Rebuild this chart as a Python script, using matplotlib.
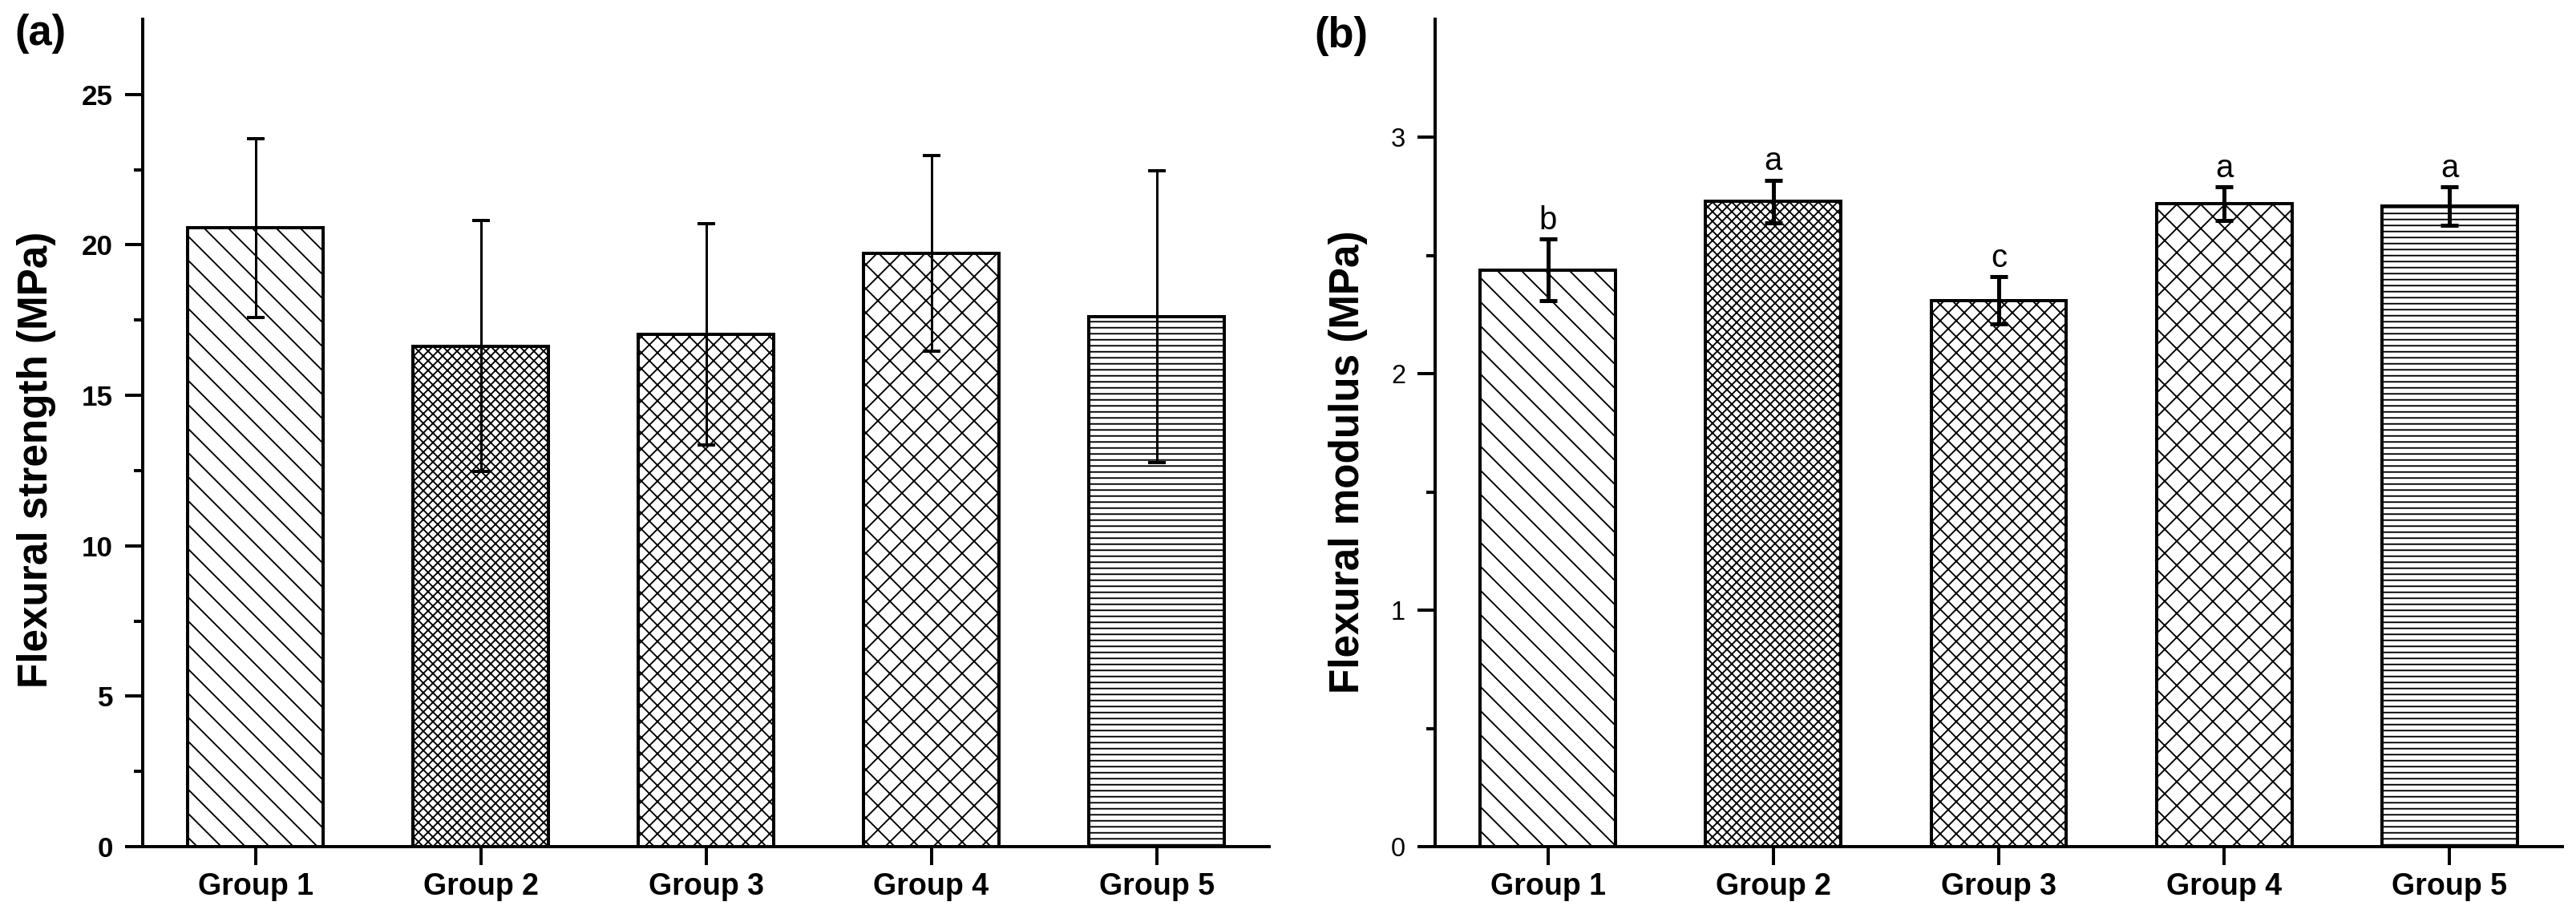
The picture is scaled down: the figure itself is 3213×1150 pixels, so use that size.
import matplotlib
matplotlib.use("Agg")
import matplotlib.pyplot as plt
import numpy as np

plt.rcParams['font.family'] = ['Liberation Sans', 'DejaVu Sans']
plt.rcParams['hatch.linewidth'] = 0.75

groups = ['Group 1', 'Group 2', 'Group 3', 'Group 4', 'Group 5']
strength_mean = [20.57, 16.63, 17.03, 19.71, 17.61]
strength_sd = [2.97, 4.17, 3.67, 3.25, 4.85]
modulus_mean = [2.44, 2.73, 2.31, 2.72, 2.71]
modulus_sd = [0.13, 0.09, 0.10, 0.07, 0.08]
modulus_letters = ['b', 'a', 'c', 'a', 'a']
hatches = ['\\\\', 'xxxxx', 'xxx', 'xx', '----']

DPI = 180
fig = plt.figure(figsize=(3213 / DPI, 1150 / DPI), dpi=DPI)

ax1 = fig.add_axes([0.0554, 0.0817, 0.4373, 0.8974])
ax2 = fig.add_axes([0.5571, 0.0817, 0.4376, 0.8974])

x = np.arange(1, len(groups) + 1)


def style_axes(ax, ylabel, ymax, major, minor, tick_bold):
    for s in ['top', 'right']:
        ax.spines[s].set_visible(False)
    for s in ['left', 'bottom']:
        ax.spines[s].set_linewidth(1.6)
    ax.set_xlim(0.5, 5.5)
    ax.set_ylim(0, ymax)
    ax.set_xticks(x)
    ax.set_xticklabels(groups, fontsize=15, fontweight='bold')
    ax.set_yticks(np.arange(0, ymax, major))
    ax.set_yticks(np.arange(0, ymax, minor), minor=True)
    ax.tick_params(axis='y', which='major', length=8.8, width=1.6, pad=6,
                   labelsize=14 if tick_bold else 13)
    ax.tick_params(axis='y', which='minor', length=4.4, width=1.6)
    ax.tick_params(axis='x', which='major', length=9, width=1.6, pad=3.6)
    ax.tick_params(axis='x', which='minor', bottom=False)
    for lab in ax.get_yticklabels():
        lab.set_fontweight('bold' if tick_bold else 'normal')
    ax.set_ylabel(ylabel, fontsize=20.5, fontweight='bold')


# (a) flexural strength
for xi, m, h in zip(x, strength_mean, hatches):
    ax1.bar(xi, m, width=0.6, color='white', edgecolor='black',
            linewidth=1.6, hatch=h, zorder=2)
ax1.errorbar(x, strength_mean, yerr=strength_sd, fmt='none', ecolor='black',
             elinewidth=1.2, capsize=4.6, capthick=1.6, zorder=3)
style_axes(ax1, 'Flexural strength (MPa)', 27.5, 5, 2.5, True)
ax1.yaxis.set_label_coords(-0.077, 0.468)

# (b) flexural modulus
for xi, m, h in zip(x, modulus_mean, hatches):
    ax2.bar(xi, m, width=0.6, color='white', edgecolor='black',
            linewidth=1.6, hatch=h, zorder=2)
ax2.errorbar(x, modulus_mean, yerr=modulus_sd, fmt='none', ecolor='black',
             elinewidth=2.0, capsize=4.6, capthick=2.0, zorder=3)
for xi, m, sd, letter in zip(x, modulus_mean, modulus_sd, modulus_letters):
    ax2.annotate(letter, (xi, m + sd), xytext=(0, 5), textcoords='offset points',
                 ha='center', va='baseline', fontsize=16)
style_axes(ax2, 'Flexural modulus (MPa)', 3.5, 1, 0.5, False)
ax2.yaxis.set_label_coords(-0.060, 0.465)

fig.text(0.0156, 0.9635, '(a)', fontsize=21, fontweight='bold', ha='center', va='center')
fig.text(0.5207, 0.961, '(b)', fontsize=21, fontweight='bold', ha='center', va='center')

fig.savefig('out.png', dpi=DPI, facecolor='white')
